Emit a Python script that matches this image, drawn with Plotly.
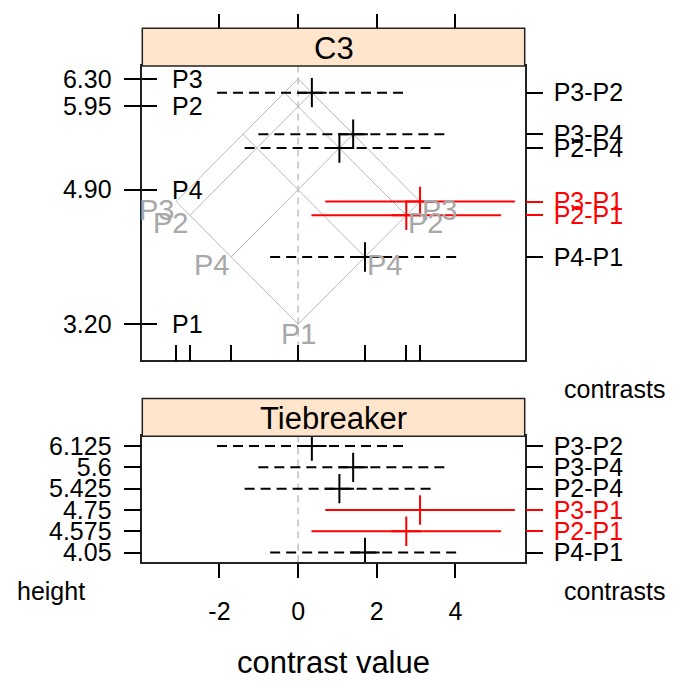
import plotly.graph_objects as go

# Group means (isomeans grid) and pairwise contrasts
means = ["P3", "P2", "P4", "P1"]
mean_values = [6.30, 5.95, 4.90, 3.20]

contrasts = ["P3-P2", "P3-P4", "P2-P4", "P3-P1", "P2-P1", "P4-P1"]
heights = [6.125, 5.6, 5.425, 4.75, 4.575, 4.05]
height_labels = ["6.125", "5.6", "5.425", "4.75", "4.575", "4.05"]
estimates = [0.35, 1.40, 1.05, 3.10, 2.75, 1.70]
lower = [-2.06, -1.01, -1.36, 0.69, 0.34, -0.71]
upper = [2.76, 3.81, 3.46, 5.51, 5.16, 4.11]
significant = [False, False, False, True, True, False]

x_ticks = [-2, 0, 2, 4]

FONT = "Liberation Sans, Arial, sans-serif"
W, H = 675, 683
RED = "#FF0000"
GRID = "#B8B8B8"
GRID_TEXT = "#A8A8A8"
STRIP = "#FFE5CC"


def py(p):
    return 1 - p / H


def px(p):
    return p / W


xdom = [px(142.3), px(524.7)]
top_dom = [py(360.7), py(62.7)]
bot_dom = [py(565.0), py(437.3)]
top_strip = [py(62.7), py(24.5)]
bot_strip = [py(437.3), py(399.3)]

xrange_ = [-3.96, 5.76]
top_yrange = [2.742, 6.462]
bot_yrange = [0.536, 6.464]

# tiebreaker positions: rank of each contrast height
order = sorted(range(len(heights)), key=lambda i: heights[i])
rank = [0] * len(heights)
for r, i in enumerate(order):
    rank[i] = r + 1

fig = go.Figure()

# isomeans grid
lo, hi = min(mean_values), max(mean_values)
gx, gy = [], []
for m in mean_values:
    gx += [m - hi, m - lo, None, lo - m, hi - m, None]
    gy += [(m + hi) / 2, (m + lo) / 2, None, (lo + m) / 2, (hi + m) / 2, None]
fig.add_trace(go.Scatter(x=gx, y=gy, mode="lines", line=dict(color=GRID, width=1),
                         xaxis="x", yaxis="y", hoverinfo="skip", showlegend=False))


def add_intervals(yvals, xa, ya):
    for i in range(len(contrasts)):
        sig = significant[i]
        col = RED if sig else "black"
        fig.add_trace(go.Scatter(
            x=[lower[i], upper[i]], y=[yvals[i], yvals[i]], mode="lines",
            line=dict(color=col, width=2, dash="solid" if sig else "10px,6px"),
            xaxis=xa, yaxis=ya, hoverinfo="skip", showlegend=False))
        fig.add_trace(go.Scatter(
            x=[estimates[i]], y=[yvals[i]], mode="markers",
            marker=dict(symbol="cross-thin", size=21, line=dict(color=col, width=2)),
            xaxis=xa, yaxis=ya, hoverinfo="skip", showlegend=False))


add_intervals(heights, "x", "y")
add_intervals(rank, "x2", "y2")

# invisible anchors for overlay axes
for xa, ya, yv in [("x", "y3", mean_values), ("x", "y4", heights), ("x", "y5", heights),
                   ("x2", "y6", rank), ("x2", "y7", rank), ("x3", "y", mean_values)]:
    fig.add_trace(go.Scatter(x=[0] * len(yv), y=yv, mode="markers", marker=dict(opacity=0),
                             xaxis=xa, yaxis=ya, hoverinfo="skip", showlegend=False))

# zero reference lines
for xr, yr in [("x", "y domain"), ("x2", "y2 domain")]:
    fig.add_shape(type="line", xref=xr, yref=yr, x0=0, x1=0, y0=0, y1=1,
                  line=dict(color="#A0A0A0", width=1, dash="7px,5px"), layer="below")

# strips
for dom, label in [(top_strip, "C3"), (bot_strip, "Tiebreaker")]:
    fig.add_shape(type="rect", xref="paper", yref="paper", x0=xdom[0], x1=xdom[1],
                  y0=dom[0], y1=dom[1], fillcolor=STRIP, line=dict(color="#222222", width=1.5))
    fig.add_annotation(x=(xdom[0] + xdom[1]) / 2, y=(dom[0] + dom[1]) / 2 - 0.002,
                       xref="paper", yref="paper", text=label, showarrow=False,
                       font=dict(size=31, color="black", family=FONT),
                       xanchor="center", yanchor="middle")

# mean names just inside the left axis
for name, m in zip(means, mean_values):
    fig.add_annotation(x=px(170), y=m, xref="paper", yref="y", text=name, showarrow=False,
                       xanchor="left", yanchor="middle",
                       font=dict(size=25, color="black", family=FONT))

# mean labels on the isomeans grid
for name, m in zip(means, mean_values):
    if m == lo:
        fig.add_annotation(x=0, y=m, xref="x", yref="y", text=name, showarrow=False,
                           xanchor="center", yanchor="middle", yshift=-10,
                           font=dict(size=29, color=GRID_TEXT, family=FONT))
        continue
    fig.add_annotation(x=m - lo, y=(m + lo) / 2, xref="x", yref="y", text=name,
                       showarrow=False, xanchor="left", yanchor="middle", yshift=-8,
                       font=dict(size=29, color=GRID_TEXT, family=FONT))
    fig.add_annotation(x=lo - m, y=(m + lo) / 2, xref="x", yref="y", text=name,
                       showarrow=False, xanchor="right", yanchor="middle", yshift=-8,
                       font=dict(size=29, color=GRID_TEXT, family=FONT))

# side titles
for text, xx, yy, anchor in [("height", 15, 594, "left"), ("contrasts", 562, 390, "left"),
                             ("contrasts", 562, 594, "left"),
                             ("contrast value", 333.5, 666, "center")]:
    fig.add_annotation(x=px(xx), y=py(yy), xref="paper", yref="paper", text=text,
                       showarrow=False, xanchor=anchor, yanchor="middle",
                       font=dict(size=31 if text == "contrast value" else 25,
                                 color="black", family=FONT))

tick_font = dict(size=25, color="black", family=FONT)
black_idx = [i for i in range(len(contrasts)) if not significant[i]]
red_idx = [i for i in range(len(contrasts)) if significant[i]]

fig.update_layout(
    width=W, height=H, margin=dict(l=0, r=0, t=0, b=0),
    paper_bgcolor="white", plot_bgcolor="white", showlegend=False,
    font=dict(family=FONT, color="black"),
    xaxis=dict(domain=xdom, anchor="y", range=xrange_, showgrid=False, zeroline=False,
               tickmode="array",
               tickvals=sorted({0.0} | {m - lo for m in mean_values} | {lo - m for m in mean_values}),
               ticks="inside", ticklen=16, tickwidth=1.5, tickcolor="black",
               showticklabels=False, showline=True, mirror=True,
               linecolor="#222222", linewidth=1.5),
    xaxis3=dict(overlaying="x", anchor="free", position=top_strip[1], side="top",
                range=xrange_, showgrid=False, zeroline=False, tickmode="array",
                tickvals=x_ticks, ticks="outside", ticklen=14, tickwidth=1.5,
                tickcolor="black", showticklabels=False, showline=False),
    xaxis2=dict(domain=xdom, anchor="y2", range=xrange_, showgrid=False, zeroline=False,
                tickmode="array", tickvals=x_ticks, ticktext=[str(v) for v in x_ticks],
                ticks="outside", ticklen=14, tickwidth=1.5, tickcolor="black",
                tickfont=tick_font, ticklabelstandoff=12, showline=True, mirror=True,
                linecolor="#222222", linewidth=1.5),
    yaxis=dict(domain=top_dom, anchor="x", range=top_yrange, showgrid=False, zeroline=False,
               tickmode="array", tickvals=mean_values,
               ticktext=["%.2f" % v for v in mean_values],
               ticks="outside", ticklen=17, tickwidth=1.5, tickcolor="black",
               tickfont=tick_font, ticklabelstandoff=7, showline=True, mirror=True,
               linecolor="#222222", linewidth=1.5),
    yaxis3=dict(overlaying="y", anchor="x", side="left", range=top_yrange, showgrid=False,
                zeroline=False, tickmode="array", tickvals=mean_values,
                ticks="inside", ticklen=15, tickwidth=1.5, tickcolor="black",
                showticklabels=False, showline=False),
    yaxis4=dict(overlaying="y", anchor="x", side="right", range=top_yrange, showgrid=False,
                zeroline=False, tickmode="array",
                tickvals=[heights[i] for i in black_idx],
                ticktext=[contrasts[i] for i in black_idx],
                ticks="outside", ticklen=17, tickwidth=1.5, tickcolor="black",
                tickfont=tick_font, ticklabelstandoff=6, showline=False),
    yaxis5=dict(overlaying="y", anchor="x", side="right", range=top_yrange, showgrid=False,
                zeroline=False, tickmode="array",
                tickvals=[heights[i] for i in red_idx],
                ticktext=[contrasts[i] for i in red_idx],
                ticks="outside", ticklen=17, tickwidth=1.5, tickcolor=RED,
                tickfont=dict(size=25, color=RED, family=FONT), ticklabelstandoff=6,
                showline=False),
    yaxis2=dict(domain=bot_dom, anchor="x2", range=bot_yrange, showgrid=False, zeroline=False,
                tickmode="array", tickvals=rank, ticktext=height_labels,
                ticks="outside", ticklen=17, tickwidth=1.5, tickcolor="black",
                tickfont=tick_font, ticklabelstandoff=7, showline=True, mirror=True,
                linecolor="#222222", linewidth=1.5),
    yaxis6=dict(overlaying="y2", anchor="x2", side="right", range=bot_yrange, showgrid=False,
                zeroline=False, tickmode="array",
                tickvals=[rank[i] for i in black_idx],
                ticktext=[contrasts[i] for i in black_idx],
                ticks="outside", ticklen=17, tickwidth=1.5, tickcolor="black",
                tickfont=tick_font, ticklabelstandoff=6, showline=False),
    yaxis7=dict(overlaying="y2", anchor="x2", side="right", range=bot_yrange, showgrid=False,
                zeroline=False, tickmode="array",
                tickvals=[rank[i] for i in red_idx],
                ticktext=[contrasts[i] for i in red_idx],
                ticks="outside", ticklen=17, tickwidth=1.5, tickcolor=RED,
                tickfont=dict(size=25, color=RED, family=FONT), ticklabelstandoff=6,
                showline=False),
)

fig.write_html("out.html")
